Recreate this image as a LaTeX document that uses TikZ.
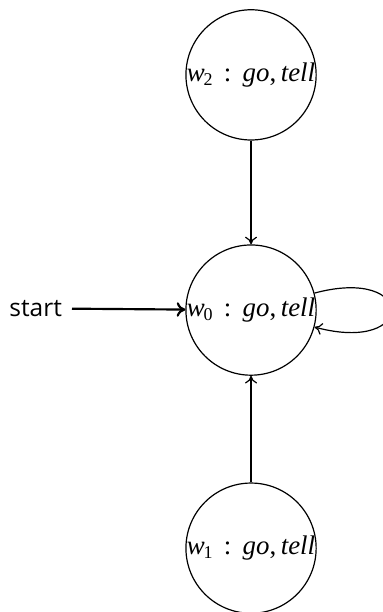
\documentclass[tikz,border=0pt]{standalone}
\usepackage{fontspec}
\setmainfont{Liberation Serif}
\newfontfamily\labelsans{Open Sans}
\usetikzlibrary{arrows.meta}
\tikzset{
  world/.style={circle, draw, line width=0.5pt, minimum size=52.6pt, inner sep=0pt, font=\fontsize{11.2}{13}\selectfont},
  link/.style={-{To[length=3.2pt,width=5pt]}, line width=0.5pt},
  startlink/.style={-{To[length=3.6pt,width=6pt]}, line width=0.9pt, shorten <=4pt}
}
\newcommand{\wlabel}[1]{\textit{w}\kern-0.5pt\raisebox{-0.35ex}{\fontsize{7.5}{8}\selectfont #1}\hspace{0.42em}:\hspace{0.42em}\textit{go},\,\textit{tell}}
\begin{document}
\begin{tikzpicture}[x=1pt,y=1pt]
  \useasboundingbox (0,0) rectangle (159.2,255);
  \node[world] (w2) at (104.6,223.8) {\wlabel{2}};
  \node[world] (w0) at (104.6,125.8) {\wlabel{0}};
  \node[world] (w1) at (104.6,26.6) {\wlabel{1}};
  \node[font=\labelsans\fontsize{10.2}{12}\selectfont, anchor=east, inner sep=0pt] (start) at (26,126.5) {start};
  \draw[startlink] (start) -- (w0);
  \draw[link] (w2) -- (w0);
  \draw[link] (w1) -- (w0);
  \draw[link] (w0) to[out=15,in=-15,looseness=8] (w0);
\end{tikzpicture}
\end{document}
